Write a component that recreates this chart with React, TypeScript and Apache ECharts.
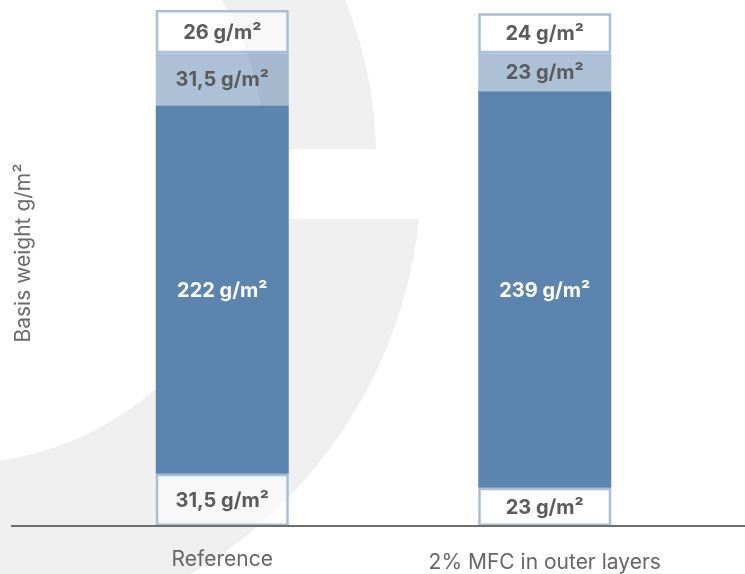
import React, { useEffect, useRef } from "react";
import * as echarts from "echarts";

const categories = ["Reference", "2% MFC in outer layers"];
const bottomLayer = [31.5, 23];
const coreLayer = [222, 239];
const upperLayer = [31.5, 23];
const topLayer = [26, 24];
const yAxisTitle = "Basis weight g/m²";
const unit = " g/m²";

const G_PATH =
  "M 222 0 L 345 0 A 420 420 0 0 1 376 149 L 265 149 A 312 312 0 0 0 222 0 Z " +
  "M 257 219 L 419 219 A 469 469 0 0 1 191 574 L 0 574 L 0 461 A 312 312 0 0 0 257 219 Z";

let registered = false;

export default function App() {
  const ref = useRef<HTMLDivElement>(null);
  useEffect(() => {
    if (!registered) {
      echarts.graphic.registerShape("logo", echarts.graphic.extendPath(G_PATH, {}) as any);
      registered = true;
    }
    const chart = echarts.init(ref.current!, null, { renderer: "svg" });
    const fmt = (p: any) => String(p.value).replace(".", ",") + unit;
    const darkText = "#5b5b5b";
    const whiteBox = {
      color: "rgba(255,255,255,0.55)",
      borderColor: "#a9bfd7",
      borderWidth: 2.5,
    };
    const labelBase = {
      show: true,
      position: "inside",
      formatter: fmt,
      fontFamily: "Inter",
      fontWeight: "bold",
      fontSize: 20,
    };
    chart.setOption({
      animation: false,
      grid: { left: 61, right: 39, top: 10, bottom: 48 },
      graphic: [
        {
          type: "logo",
          x: 0,
          y: 0,
          z: -10,
          silent: true,
          style: { fill: "#efefef" },
        },
        {
          type: "line",
          z: 10,
          shape: { x1: 11, y1: 526, x2: 745, y2: 526 },
          style: { stroke: "#6e6e6e", lineWidth: 2 },
        },
        {
          type: "text",
          x: 22,
          y: 253,
          rotation: Math.PI / 2,
          style: {
            text: yAxisTitle,
            fontFamily: "Inter",
            fontSize: 21,
            fill: "#6b6b6b",
            align: "center",
            verticalAlign: "middle",
          },
        },
      ],
      xAxis: {
        type: "category",
        data: categories,
        axisLine: { show: false },
        axisTick: { show: false },
        axisLabel: {
          margin: 22,
          formatter: (v: string) => (v === categories[0] ? `{a|${v}}` : `{b|${v}}`),
          rich: {
            a: { fontFamily: "Inter", fontSize: 21, lineHeight: 21, color: "#666666" },
            b: { fontFamily: "Inter", fontSize: 21, lineHeight: 21, color: "#666666", padding: [6, 0, 0, 0] },
          },
        },
      },
      yAxis: {
        type: "value",
        min: 0,
        max: 311,
        show: false,
        splitLine: { show: false },
      },
      series: [
        {
          name: "Outer bottom",
          type: "bar",
          stack: "w",
          barWidth: 133,
          data: bottomLayer,
          itemStyle: whiteBox,
          label: { ...labelBase, color: darkText },
        },
        {
          name: "Core",
          type: "bar",
          stack: "w",
          barWidth: 133,
          data: coreLayer,
          itemStyle: { color: "#5b84ae" },
          label: { ...labelBase, color: "#ffffff" },
        },
        {
          name: "Upper",
          type: "bar",
          stack: "w",
          barWidth: 133,
          data: upperLayer,
          itemStyle: { color: "rgba(91,132,174,0.5)" },
          label: { ...labelBase, color: darkText },
        },
        {
          name: "Outer top",
          type: "bar",
          stack: "w",
          barWidth: 133,
          data: topLayer,
          itemStyle: whiteBox,
          label: { ...labelBase, color: darkText },
        },
      ],
    });
    return () => chart.dispose();
  }, []);
  return (
    <div
      ref={ref}
      style={{ position: "fixed", left: 0, top: 0, width: 745, height: 574 }}
    />
  );
}
